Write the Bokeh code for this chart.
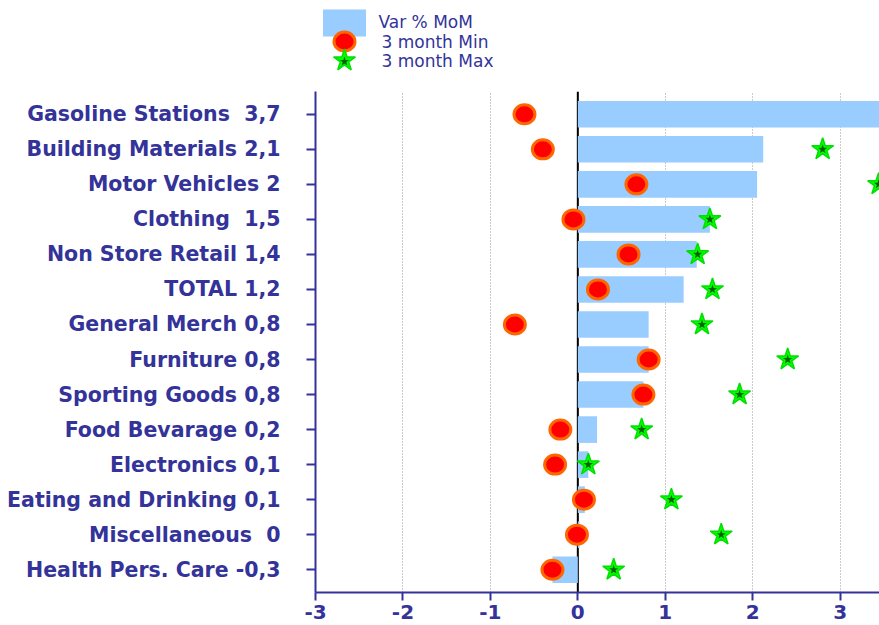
import math
from bokeh.plotting import figure
from bokeh.models import Range1d, FixedTicker, Span, ColumnDataSource
from bokeh.layouts import column
from bokeh.embed import file_html
from bokeh.resources import INLINE
from bokeh.core.properties import value

# ---------------- data ----------------
categories = [
    "Gasoline Stations\u00a0 3,7",
    "Building Materials 2,1",
    "Motor Vehicles 2",
    "Clothing\u00a0 1,5",
    "Non Store Retail 1,4",
    "TOTAL 1,2",
    "General Merch 0,8",
    "Furniture 0,8",
    "Sporting Goods 0,8",
    "Food Bevarage 0,2",
    "Electronics 0,1",
    "Eating and Drinking 0,1",
    "Miscellaneous\u00a0 0",
    "Health Pers. Care -0,3",
]
var_mom = [3.7, 2.12, 2.05, 1.51, 1.36, 1.21, 0.81, 0.81, 0.75, 0.22, 0.12, 0.08, 0.02, -0.29]
min_3m = [-0.61, -0.40, 0.67, -0.05, 0.58, 0.23, -0.72, 0.81, 0.75, -0.20, -0.26, 0.07, -0.01, -0.29]
max_3m = [float("nan"), 2.80, 3.44, 1.51, 1.37, 1.54, 1.42, 2.40, 1.85, 0.73, 0.12, 1.07, 1.64, 0.41]
x_ticks = [-3, -2, -1, 0, 1, 2, 3]
x_tick_labels = ["-3", "-2", "-1", "0", "1", "2", "3"]
legend_labels = ["Var % MoM", "3 month Min", "3 month Max"]

NAVY = "#333399"
BAR = "#99CCFF"
FONT = "DejaVu Sans"

n = len(categories)
ypos = [n - 1 - i for i in range(n)]
src = ColumnDataSource(dict(y=ypos, cat=categories, var=var_mom, mn=min_3m, mx=max_3m))

# ---------------- legend strip (frame aligned with the chart frame, page-pixel ranges) ----------------
leg = figure(width=879, height=91, x_range=Range1d(315, 879), y_range=Range1d(91, 0),
             output_backend="svg", toolbar_location=None,
             min_border_left=315, min_border_right=0, min_border_top=0, min_border_bottom=0,
             x_axis_location=None, y_axis_location=None, outline_line_color=None)
leg.grid.visible = False
leg.rect(x=[344], y=[22.5], width=43, height=27, fill_color=BAR, line_color=None)
leg.ellipse(x=[344], y=[41], width=21, height=19, width_units="screen", height_units="screen",
            fill_color="#FF0000", line_color="#FF6600", line_width=3)
leg.scatter(x=[344], y=[60], marker="star", size=23, fill_color="#00FF00",
            line_color="#00E000", line_width=1.5)
leg.scatter(x=[344], y=[61], marker="star", size=10, fill_color="#006600", line_color=None)
leg.text(x=[378, 381, 381], y=[21, 41, 60], text=legend_labels,
         text_font=value(FONT), text_font_size="17px", text_color=NAVY,
         text_baseline="middle", text_align="left")

# ---------------- main chart ----------------
p = figure(width=879, height=534, x_range=Range1d(-3, 3.45), y_range=Range1d(-0.65, 13.65),
           output_backend="svg", toolbar_location=None,
           min_border_left=315, min_border_right=0, min_border_top=0, min_border_bottom=33,
           outline_line_color=None)

p.xgrid.ticker = FixedTicker(ticks=x_ticks)
p.xgrid.grid_line_color = "#999999"
p.xgrid.grid_line_dash = "1 2"
p.xgrid.grid_line_width = 1
p.ygrid.visible = False

p.add_layout(Span(location=0, dimension="height", line_color="black", line_width=2, level="underlay"))

p.hbar(y="y", left=0, right="var", height=0.76, source=src, fill_color=BAR, line_color=None)
p.ellipse(x="mn", y="y", width=21, height=19, width_units="screen", height_units="screen",
          source=src, fill_color="#FF0000", line_color="#FF6600", line_width=3)
p.scatter(x="mx", y="y", marker="star", size=23, source=src, fill_color="#00FF00",
          line_color="#00E000", line_width=1.5)
p.scatter(x="mx", y="y", marker="star", size=10, source=src, fill_color="#006600", line_color=None)

# x axis
xa = p.xaxis[0]
xa.ticker = FixedTicker(ticks=x_ticks)
xa.major_label_overrides = {t: l for t, l in zip(x_ticks, x_tick_labels)}
xa.axis_line_color = NAVY
xa.axis_line_width = 2
xa.major_tick_line_color = NAVY
xa.major_tick_line_width = 2
xa.major_tick_out = 8
xa.major_tick_in = 0
xa.minor_tick_line_color = None
xa.major_label_text_font = FONT
xa.major_label_text_font_style = "bold"
xa.major_label_text_font_size = "20px"
xa.major_label_text_color = NAVY
xa.major_label_standoff = 4

# y axis
ya = p.yaxis[0]
ya.ticker = FixedTicker(ticks=ypos)
ya.major_label_overrides = {y: c for y, c in zip(ypos, categories)}
ya.axis_line_color = NAVY
ya.axis_line_width = 2
ya.major_tick_line_color = NAVY
ya.major_tick_line_width = 2
ya.major_tick_out = 9
ya.major_tick_in = 0
ya.minor_tick_line_color = None
ya.major_label_text_font = FONT
ya.major_label_text_font_style = "bold"
ya.major_label_text_font_size = "20.5px"
ya.major_label_text_color = NAVY
ya.major_label_standoff = 26

layout = column(leg, p)
open("out.html", "w").write(file_html(layout, INLINE))
